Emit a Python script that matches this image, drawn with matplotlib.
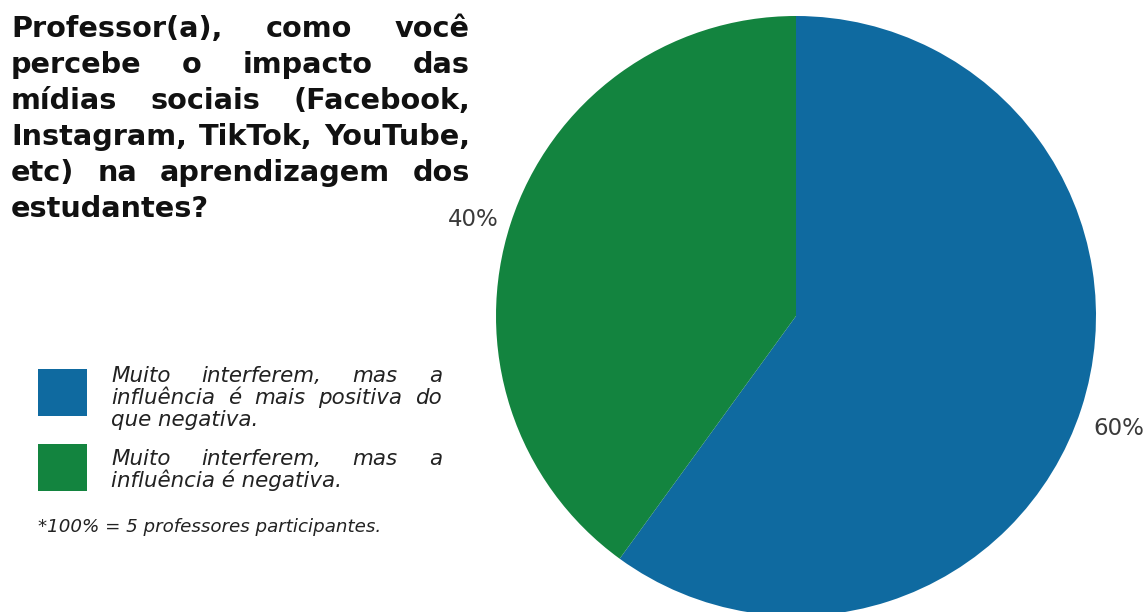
import matplotlib
matplotlib.use("Agg")
import matplotlib.pyplot as plt
from matplotlib.patches import Rectangle

# data
shares = [60, 40]
colors = ["#0f6aa0", "#13843f"]
title_lines = [
    "Professor(a), como você",
    "percebe o impacto das",
    "mídias sociais (Facebook,",
    "Instagram, TikTok, YouTube,",
    "etc) na aprendizagem dos",
    "estudantes?",
]
legend_lines = [
    ["Muito interferem, mas a", "influência é mais positiva do", "que negativa."],
    ["Muito interferem, mas a", "influência é negativa."],
]
footnote = "*100% = 5 professores participantes."

W, H = 1146, 612
fig = plt.figure(figsize=(W / 100, H / 100), dpi=100)
fig.patch.set_facecolor("white")

# pie
pax = fig.add_axes([496 / W, -4 / H, 600 / W, 600 / H])
wedges, texts, autotexts = pax.pie(
    shares, colors=colors, startangle=90, counterclock=False,
    autopct="%.0f%%", pctdistance=1.13,
    textprops=dict(fontsize=16.5, color="#3a3a3a", family="DejaVu Sans"))
for t in autotexts:
    x, y = t.get_position()
    t.set_position((x, y - 0.027))  # nudge to visual centre
pax.set_xlim(-1, 1)
pax.set_ylim(-1, 1)
pax.set_aspect("equal")

# overlay in pixel coords
ax = fig.add_axes([0, 0, 1, 1])
ax.set_xlim(0, W)
ax.set_ylim(H, 0)
ax.axis("off")

renderer = fig.canvas.get_renderer()
FAM = "DejaVu Sans"


def width_of(s, size, **kw):
    t = ax.text(0, 0, s, fontsize=size, family=FAM, **kw)
    w = t.get_window_extent(renderer).width
    t.remove()
    return w


def fit_size(s, target, **kw):
    return 10 * target / width_of(s, 10, **kw)


def justify(line, x0, x1, y, size, last=False, **kw):
    words = line.split()
    if last or len(words) == 1:
        ax.text(x0, y, line, fontsize=size, family=FAM, va="baseline", **kw)
        return
    ws = [width_of(w, size, **kw) for w in words]
    gap = (x1 - x0 - sum(ws)) / (len(words) - 1)
    x = x0
    for w, wd in zip(words, ws):
        ax.text(x, y, w, fontsize=size, family=FAM, va="baseline", **kw)
        x += wd + gap


# title
tkw = dict(fontweight="bold", color="#111111")
tsize = fit_size(title_lines[3], 458, **tkw)
for i, line in enumerate(title_lines):
    justify(line, 11, 470, 37 + 36 * i, tsize, last=(i == len(title_lines) - 1), **tkw)

# legend
lkw = dict(style="italic", color="#222222")
lsize = 0.92 * fit_size(legend_lines[0][1], 331, **lkw)
box_tops = [369, 444]
base_first = [382, 465]
for k, lines in enumerate(legend_lines):
    ax.add_patch(Rectangle((38, box_tops[k]), 49, 47, facecolor=colors[k], edgecolor="none"))
    for j, line in enumerate(lines):
        justify(line, 111, 442, base_first[k] + 22 * j, lsize, last=(j == len(lines) - 1), **lkw)

fsize = fit_size(footnote, 344, **lkw)
ax.text(38, 532, footnote, fontsize=fsize, family=FAM, va="baseline", **lkw)

fig.savefig("out.png", dpi=100, facecolor="white")
